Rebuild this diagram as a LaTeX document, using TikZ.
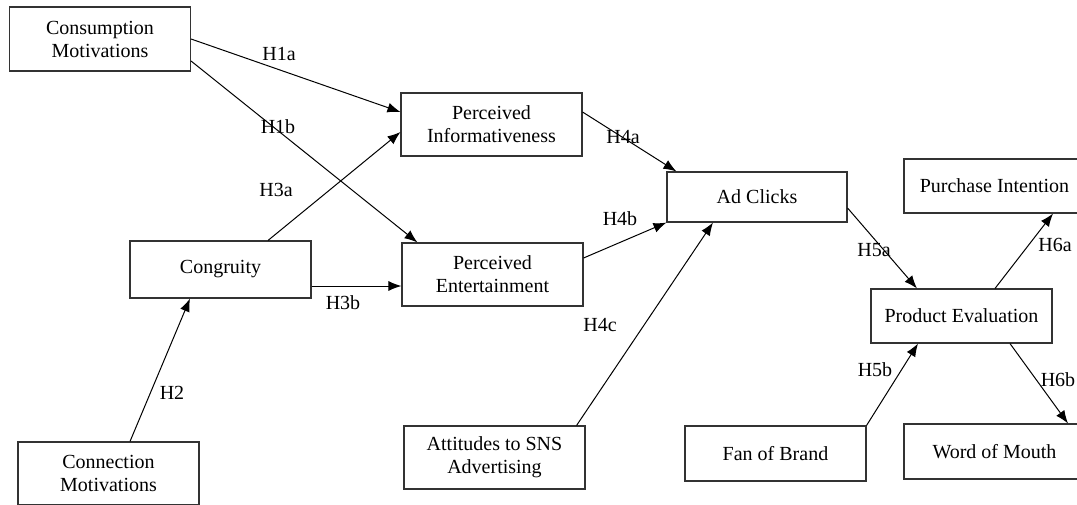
\documentclass[tikz,border=0pt]{standalone}
\usepackage{fontspec}
\setmainfont{Liberation Serif}
\usetikzlibrary{arrows.meta}

\begin{document}
\begin{tikzpicture}[x=1pt,y=-1pt,
  font=\fontsize{20}{23}\selectfont,
  box/.style={draw=black!80, line width=1.1pt, minimum width=181pt, align=center, inner sep=2pt},
  hyp/.style={-{Latex[length=13pt,width=10pt]}, line width=1pt}]

\clip (0,0) rectangle (1077,504);

\node[box, minimum height=64pt] (cons) at (100,39) {Consumption\\Motivations};
\node[box, minimum height=63pt] (conn) at (108.5,473.5) {Connection\\Motivations};
\node[box, minimum height=57pt] (cong) at (220.5,269.5) {Congruity};
\node[box, minimum height=63pt] (info) at (491.5,124.5) {Perceived\\Informativeness};
\node[box, minimum height=63pt] (ent) at (492.5,274.5) {Perceived\\Entertainment};
\node[box, minimum height=63pt] (att) at (494.5,457.5) {Attitudes to SNS\\Advertising};
\node[box, minimum height=50pt, minimum width=180pt] (clicks) at (757,197) {Ad Clicks};
\node[box, minimum height=55pt] (fan) at (775.5,453.5) {Fan of Brand};
\node[box, minimum height=54pt] (prod) at (961.5,316) {Product Evaluation};
\node[box, minimum height=54pt] (purch) at (994.5,186) {Purchase Intention};
\node[box, minimum height=55pt] (word) at (994.5,451.5) {Word of Mouth};

\draw[hyp] (cons.east) -- ([yshift=12.5pt]info.west);
\draw[hyp] ([yshift=-22pt]cons.east) -- ([xshift=16pt]ent.north west);
\draw[hyp] ([xshift=47.5pt]cong.north) -- ([yshift=-7.5pt]info.west);
\draw[hyp] ([yshift=-16.5pt]cong.east) -- ([yshift=-11.5pt]ent.west);
\draw[hyp] ([xshift=21.5pt]conn.north) -- ([xshift=-30.5pt]cong.south);
\draw[hyp] ([yshift=12.5pt]info.east) -- ([xshift=10pt]clicks.north west);
\draw[hyp] ([yshift=16.5pt]ent.east) -- (clicks.south west);
\draw[hyp] ([xshift=-9pt]att.north east) -- ([xshift=-44pt]clicks.south);
\draw[hyp] ([yshift=-11pt]clicks.east) -- ([xshift=-44.5pt]prod.north);
\draw[hyp] (fan.north east) -- ([xshift=-43.5pt]prod.south);
\draw[hyp] ([xshift=33.5pt]prod.north) -- ([xshift=58.5pt]purch.south);
\draw[hyp] ([xshift=48.5pt]prod.south) -- ([xshift=73.5pt]word.north);

\node (h1a) at (279,54) {H1a};
\node (h1b) at (278,127) {H1b};
\node (h2) at (172,393) {H2};
\node (h3a) at (276,190) {H3a};
\node (h3b) at (343,303) {H3b};
\node (h4a) at (623,137) {H4a};
\node (h4b) at (620,219) {H4b};
\node (h4c) at (600,325) {H4c};
\node (h5a) at (874,250) {H5a};
\node (h5b) at (875,370) {H5b};
\node (h6a) at (1055,245) {H6a};
\node (h6b) at (1058,380) {H6b};

\end{tikzpicture}
\end{document}
